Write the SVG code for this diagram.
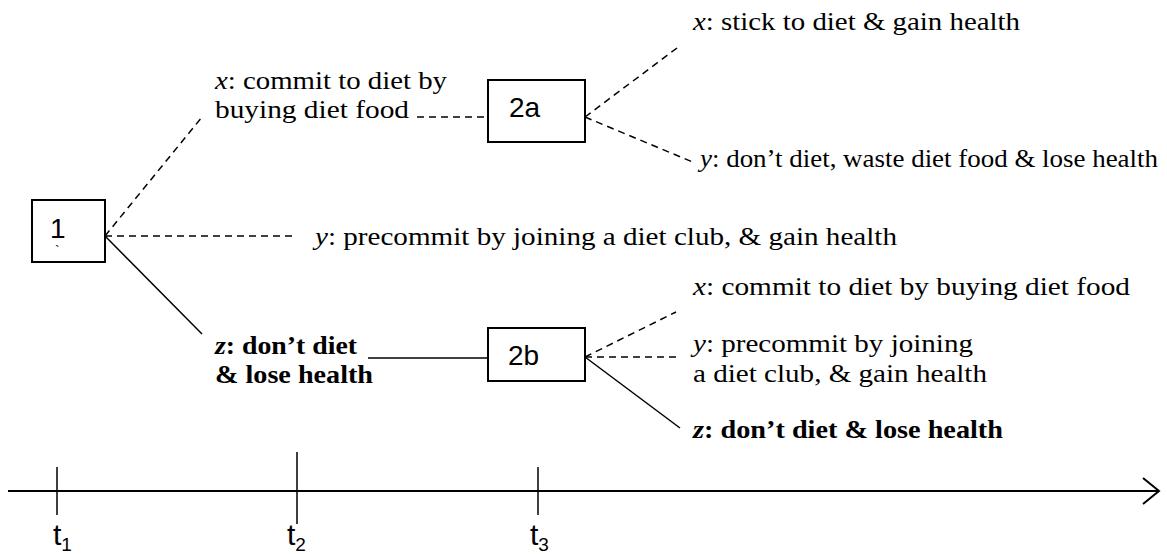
<svg xmlns="http://www.w3.org/2000/svg" width="1167" height="554" viewBox="0 0 1167 554">
<style>
.box{fill:#fff;stroke:#000;stroke-width:2}
.lbl{font-family:"Liberation Sans",Arial,sans-serif;font-size:28px;fill:#000}
.t{font-family:"Liberation Serif","Times New Roman","DejaVu Serif",serif;font-size:26px;fill:#000}
.b{font-weight:bold}
.dash{stroke:#000;stroke-width:1.5;stroke-dasharray:7 5;fill:none}
.solid{stroke:#000;stroke-width:1.5;fill:none}
.axis{stroke:#000;stroke-width:2;fill:none}
.tk{font-family:"Liberation Sans",Arial,sans-serif;font-size:30px;fill:#000}
.sub{font-size:19px}
</style>
<rect width="1167" height="554" fill="#fff"/>
<g id="connectors">
<line class="dash" x1="105" y1="236" x2="202" y2="117"/>
<line class="dash" x1="105" y1="236" x2="297" y2="236"/>
<line class="solid" x1="105" y1="236" x2="202" y2="334"/>
<line class="dash" x1="417" y1="117" x2="488" y2="117"/>
<line class="dash" x1="585" y1="117" x2="677" y2="48"/>
<line class="dash" x1="585" y1="117" x2="695" y2="163"/>
<line class="solid" x1="368" y1="358" x2="488" y2="358"/>
<line class="dash" x1="585" y1="357" x2="676" y2="312"/>
<line class="dash" x1="585" y1="357" x2="678" y2="357"/>
<line class="solid" x1="585" y1="357" x2="680" y2="428"/>
</g>
<g id="node1">
<rect class="box" x="32" y="200" width="73" height="62"/>
<text class="lbl" x="50" y="238">1</text>
<text x="55" y="256" font-family="Liberation Sans, sans-serif" font-size="14">`</text>
</g>
<g id="node2a">
<rect class="box" x="488" y="80" width="97" height="62"/>
<text class="lbl" x="509" y="117">2a</text>
</g>
<g id="node2b">
<rect class="box" x="488" y="328" width="97" height="53"/>
<text class="lbl" x="508" y="365">2b</text>
</g>
<g id="labels">
<text class="t" x="215" y="89" textLength="232" lengthAdjust="spacingAndGlyphs"><tspan font-style="italic">x</tspan>: commit to diet by</text>
<text class="t" x="215" y="118" textLength="194" lengthAdjust="spacingAndGlyphs">buying diet food</text>
<text class="t" x="693" y="30" textLength="327" lengthAdjust="spacingAndGlyphs"><tspan font-style="italic">x</tspan>: stick to diet &amp; gain health</text>
<text class="t" x="700" y="167" textLength="458" lengthAdjust="spacingAndGlyphs"><tspan font-style="italic">y</tspan>: don’t diet, waste diet food &amp; lose health</text>
<text class="t" x="315" y="245" textLength="582" lengthAdjust="spacingAndGlyphs"><tspan font-style="italic">y</tspan>: precommit by joining a diet club, &amp; gain health</text>
<text class="t b" x="215" y="354" textLength="142" lengthAdjust="spacingAndGlyphs"><tspan font-style="italic">z</tspan>: don’t diet</text>
<text class="t b" x="215" y="383" textLength="158" lengthAdjust="spacingAndGlyphs">&amp; lose health</text>
<text class="t" x="693" y="295" textLength="437" lengthAdjust="spacingAndGlyphs"><tspan font-style="italic">x</tspan>: commit to diet by buying diet food</text>
<text class="t" x="693" y="352" textLength="280" lengthAdjust="spacingAndGlyphs"><tspan font-style="italic">y</tspan>: precommit by joining</text>
<text class="t" x="693" y="382" textLength="294" lengthAdjust="spacingAndGlyphs">a diet club, &amp; gain health</text>
<text class="t b" x="693" y="438" textLength="310" lengthAdjust="spacingAndGlyphs"><tspan font-style="italic">z</tspan>: don’t diet &amp; lose health</text>
</g>
<g id="timeline">
<line class="axis" x1="8" y1="491" x2="1158" y2="491"/>
<polyline class="axis" points="1143,478 1159,491 1143,504"/>
<line class="solid" x1="57" y1="467" x2="57" y2="515"/>
<line class="solid" x1="297" y1="452" x2="297" y2="524"/>
<line class="solid" x1="538" y1="467" x2="538" y2="515"/>
<text class="tk" x="53" y="545">t<tspan class="sub" dy="6">1</tspan></text>
<text class="tk" x="287" y="545">t<tspan class="sub" dy="6">2</tspan></text>
<text class="tk" x="530" y="545">t<tspan class="sub" dy="6">3</tspan></text>
</g>
</svg>
